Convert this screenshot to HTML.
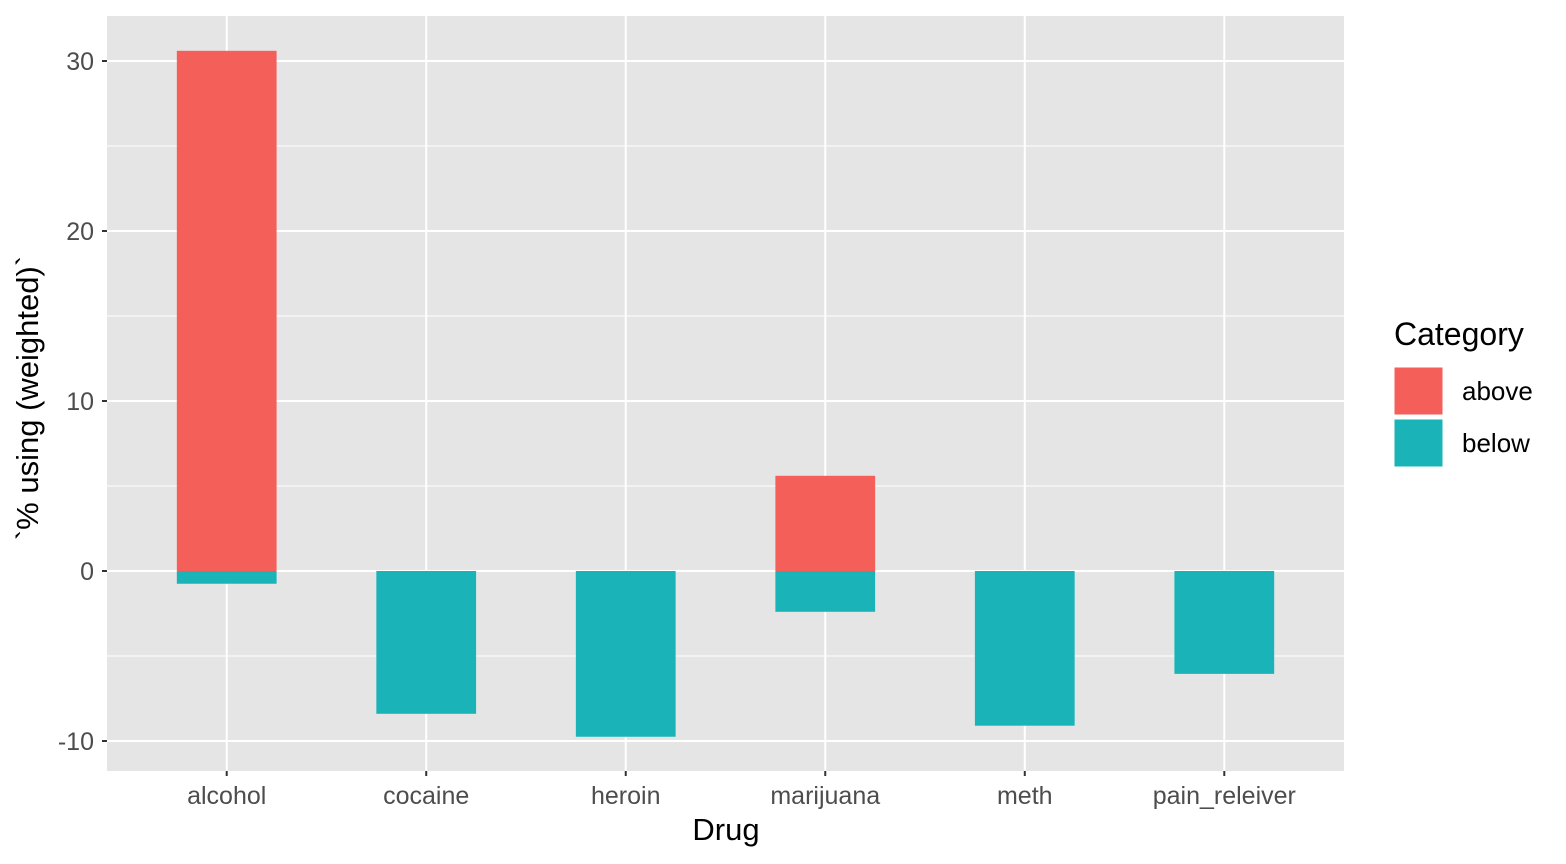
<!DOCTYPE html>
<html><head><meta charset="utf-8"><style>
body{margin:0;background:#fff;}
svg{display:block;font-family:"Liberation Sans",sans-serif;}
</style></head><body>
<svg id="chart" width="1566" height="864">
<rect x="107" y="16" width="1237" height="755" fill="#e5e5e5"/>
<g id="grid"></g><g id="bars"></g><g id="axes"></g>
<text x="726" y="840" font-size="31" text-anchor="middle" fill="#000">Drug</text>
<text transform="translate(38,398) rotate(-90)" font-size="31" text-anchor="middle" fill="#000">`% using (weighted)`</text>
<g>
<text x="1394" y="345" font-size="32" fill="#000">Category</text>
<rect x="1394" y="367" width="49" height="48" fill="#f45f5a" stroke="#fff" stroke-width="1"/>
<text x="1462" y="400" font-size="26" fill="#000">above</text>
<rect x="1394" y="419" width="49" height="48" fill="#19b3b8" stroke="#fff" stroke-width="1"/>
<text x="1462" y="452" font-size="26" fill="#000">below</text>
</g>
</svg>
<script>
const categories=["alcohol","cocaine","heroin","marijuana","meth","pain_releiver"];
const aboveValues=[30.6,0,0,5.6,0,0];
const belowValues=[-0.75,-8.4,-9.75,-2.4,-9.1,-6.05];
const yTicks=[-10,0,10,20,30];
const yMinor=[-5,5,15,25];
const NS="http://www.w3.org/2000/svg";
const px0=107,px1=1344,py0=16,py1=771;
const band=(px1-px0)/(categories.length+0.2);
function xc(i){return px0+band*(0.6+i);}
function y(v){return 571-v*17;}
function mk(tag,attrs,parent){const e=document.createElementNS(NS,tag);for(const k in attrs)e.setAttribute(k,attrs[k]);parent.appendChild(e);return e;}
const grid=document.getElementById('grid'),bars=document.getElementById('bars'),axes=document.getElementById('axes');
yMinor.forEach(v=>{const l=mk('line',{x1:px0,x2:px1,y1:y(v),y2:y(v),stroke:'#fff','stroke-width':1},grid);

});
yTicks.forEach(v=>{const l=mk('line',{x1:px0,x2:px1,y1:y(v),y2:y(v),stroke:'#fff','stroke-width':2},grid);


const t=mk('line',{x1:102,x2:107,y1:y(v),y2:y(v),stroke:'#333','stroke-width':2},axes);


const tx=mk('text',{x:94,y:y(v)+9,'font-size':25,'text-anchor':'end',fill:'#4d4d4d'},axes);tx.textContent=v;

});
categories.forEach((c,i)=>{const cx=xc(i);
const g=mk('line',{x1:cx,x2:cx,y1:py0,y2:py1,stroke:'#fff','stroke-width':2},grid);


const w=band*0.5;
if(aboveValues[i]>0){const r=mk('rect',{x:cx-w/2,y:y(aboveValues[i]),width:w,height:y(0)-y(aboveValues[i]),fill:'#f45f5a'},bars);

}
if(belowValues[i]<0){const r=mk('rect',{x:cx-w/2,y:y(0),width:w,height:y(belowValues[i])-y(0),fill:'#19b3b8'},bars);

}
const t=mk('line',{x1:cx,x2:cx,y1:771,y2:776,stroke:'#333','stroke-width':2},axes);


const tx=mk('text',{x:cx,y:804,'font-size':25,'text-anchor':'middle',fill:'#4d4d4d'},axes);tx.textContent=c;

});
</script>
</body></html>
